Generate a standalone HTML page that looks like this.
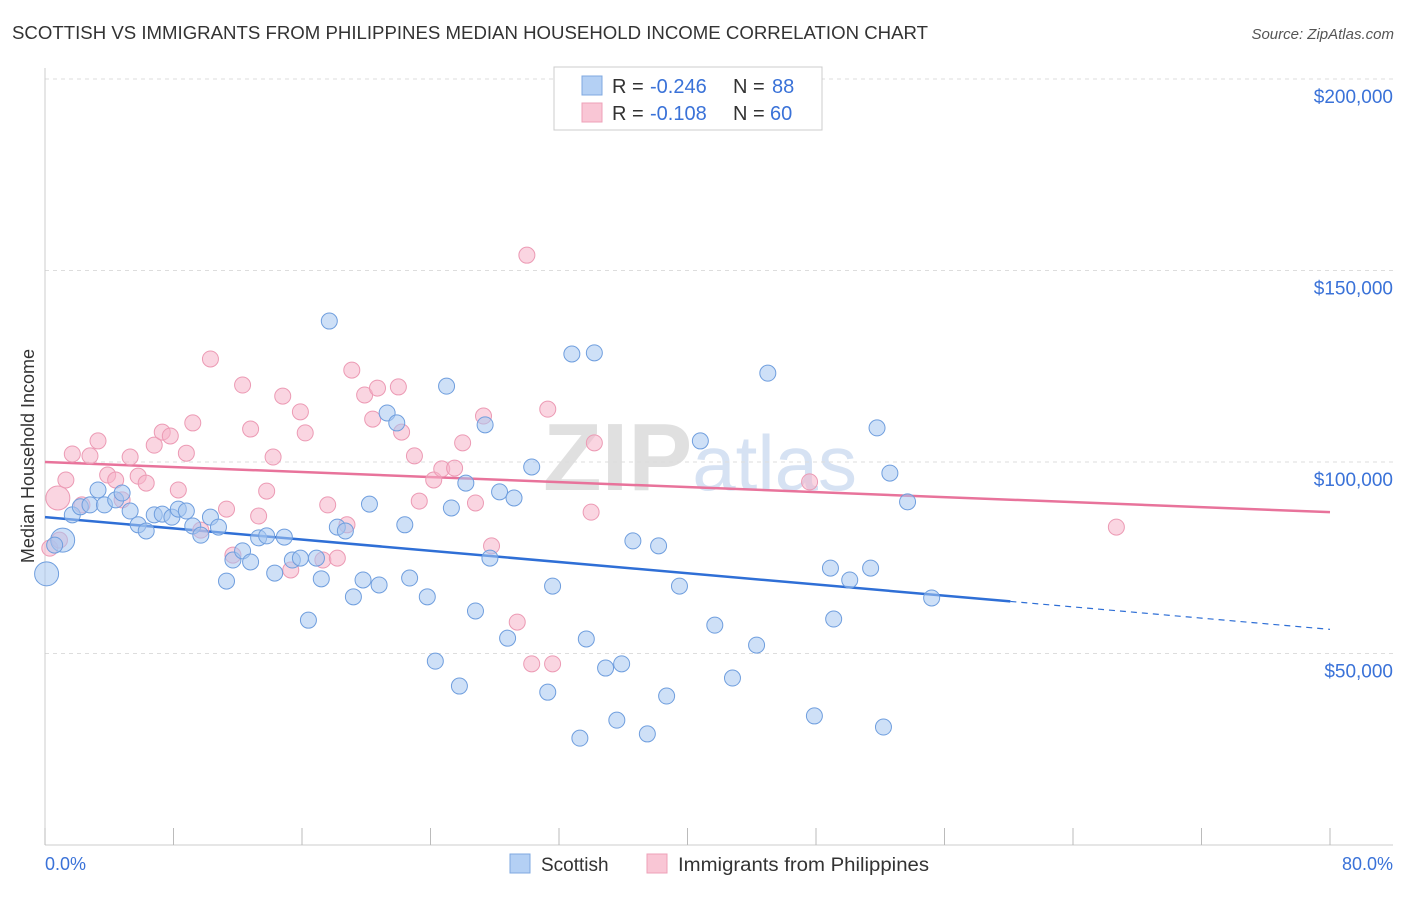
<!DOCTYPE html>
<html><head><meta charset="utf-8"><style>
body{margin:0;background:#fff;font-family:"Liberation Sans",sans-serif;}
svg text{font-family:"Liberation Sans",sans-serif;}
</style></head><body>
<svg id="chart" width="1406" height="892" xmlns="http://www.w3.org/2000/svg">
<text x="12" y="39" font-size="18" fill="#333" textLength="916" lengthAdjust="spacingAndGlyphs">SCOTTISH VS IMMIGRANTS FROM PHILIPPINES MEDIAN HOUSEHOLD INCOME CORRELATION CHART</text>
<text x="1394" y="39" font-size="15" fill="#555" text-anchor="end" font-style="italic">Source: ZipAtlas.com</text>
<text x="700" y="490" font-size="96" fill="#e4e8ef" text-anchor="middle" font-family="Liberation Serif"><tspan font-weight="bold" fill="#e0e0e0">ZIP</tspan><tspan fill="#d6e2f3" font-family="Liberation Sans" font-size="78">atlas</tspan></text>
<g id="grid"></g>
<g id="axes"></g>
<g id="lines"></g>
<g id="points"></g>
<text transform="translate(34,456) rotate(-90)" font-size="18" fill="#333" text-anchor="middle">Median Household Income</text>
<text x="45" y="870" font-size="18" fill="#3a72d8">0.0%</text>
<text x="1393" y="870" font-size="18" fill="#3a72d8" text-anchor="end">80.0%</text>
<g>
<rect x="554" y="67" width="268" height="63" fill="#fff" stroke="#ccc"/>
<rect x="582" y="76" width="20" height="19" fill="#b4d0f4" stroke="#7fa8e0"/>
<rect x="582" y="103" width="20" height="19" fill="#f9c6d5" stroke="#eea0b8"/>
<text x="612" y="93" font-size="20" fill="#333">R =</text>
<text x="650" y="93" font-size="20" fill="#3a72d8">-0.246</text>
<text x="733" y="93" font-size="20" fill="#333">N =</text>
<text x="772" y="93" font-size="20" fill="#3a72d8">88</text>
<text x="612" y="120" font-size="20" fill="#333">R =</text>
<text x="650" y="120" font-size="20" fill="#3a72d8">-0.108</text>
<text x="733" y="120" font-size="20" fill="#333">N =</text>
<text x="770" y="120" font-size="20" fill="#3a72d8">60</text>
</g>
<g>
<rect x="510" y="854" width="20" height="19" fill="#b4d0f4" stroke="#7fa8e0"/>
<text x="541" y="871" font-size="19" fill="#333">Scottish</text>
<rect x="647" y="854" width="20" height="19" fill="#f9c6d5" stroke="#eea0b8"/>
<text x="678" y="871" font-size="19" fill="#333" textLength="251" lengthAdjust="spacingAndGlyphs">Immigrants from Philippines</text>
</g>
</svg>
<script>
const yTicks=[50000,100000,150000,200000];
const yTickLabels=["$50,000","$100,000","$150,000","$200,000"];
const xTicks=[0,8,16,24,32,40,48,56,64,72,80];
const blueX=[0.1,1.1,0.6,1.7,2.2,2.8,3.3,3.7,4.4,4.8,5.3,5.8,6.3,6.8,7.3,7.9,8.3,8.8,9.2,9.7,10.3,10.8,11.3,11.7,12.3,12.8,13.3,13.8,14.3,14.9,15.4,15.9,16.4,16.9,17.2,17.7,18.2,18.7,19.2,19.8,20.2,20.8,21.3,21.9,22.4,22.7,23.8,24.3,25.0,25.3,25.8,26.2,26.8,27.4,27.7,28.3,28.8,29.2,30.3,31.3,31.6,32.8,33.3,33.7,34.2,34.9,35.6,35.9,36.6,37.5,38.2,38.7,39.5,40.8,41.7,42.8,44.3,45.0,47.9,48.9,49.1,50.1,51.4,51.8,52.2,52.6,53.7,55.2];
const blueY=[70.8,79.6,78.3,86.2,88.3,88.8,92.7,88.8,90.1,91.9,87.2,83.6,82.0,86.2,86.4,85.6,87.7,87.2,83.3,80.9,85.6,83.0,68.9,74.4,76.8,73.9,80.2,80.7,71.0,80.4,74.4,74.9,58.7,74.9,69.5,136.8,83.0,82.0,64.8,69.2,89.0,67.9,112.8,110.2,83.6,69.7,64.8,48.0,119.8,88.0,41.5,94.5,61.1,109.7,74.9,92.2,54.0,90.6,98.7,39.9,67.6,128.2,27.9,53.8,128.5,46.2,32.6,47.3,79.4,29.0,78.1,38.9,67.6,105.5,57.4,43.6,52.2,123.2,33.7,72.3,59.0,69.2,72.3,108.9,30.8,97.1,89.6,64.5];
const pinkX=[0.8,0.3,0.9,1.3,1.7,2.3,2.8,3.3,3.9,4.4,4.8,5.3,5.8,6.3,6.8,7.3,7.8,8.3,8.8,9.2,9.7,10.3,11.3,11.7,12.3,12.8,13.3,13.8,14.2,14.8,15.3,15.9,16.2,17.3,17.6,18.2,18.8,19.1,19.9,20.4,20.7,22.0,22.2,23.0,23.3,24.2,24.7,25.5,26.0,26.8,27.3,27.8,29.4,30.0,30.3,31.3,31.6,34.0,34.2,47.6,66.7];
const pinkY=[90.6,77.5,79.6,95.3,102.1,88.8,101.6,105.5,96.6,95.3,90.1,101.3,96.3,94.5,104.4,107.8,106.8,92.7,102.3,110.2,82.2,126.9,87.7,75.7,120.1,108.6,85.9,92.4,101.3,117.2,71.8,113.1,107.6,74.4,88.8,74.9,83.6,124.0,117.5,111.2,119.3,119.6,107.8,101.6,89.8,95.3,98.2,98.4,105.0,89.3,112.0,78.1,58.2,154.0,47.3,113.8,47.3,86.9,105.0,94.8,83.0];
const blueTrend=[85.6,63.6,56.3];
const blueTrendX=[0,60.1,80];
const pinkTrend=[100.0,86.9];
const pinkTrendX=[0,80];
const NS="http://www.w3.org/2000/svg";
function xs(p){return 45+p*(1330-45)/80;}
function ys(v){return 462-(v-100000)*191.5/50000;}
function yk(k){return ys(k*1000);}
function mk(tag,attrs,parent){const e=document.createElementNS(NS,tag);for(const k in attrs)e.setAttribute(k,attrs[k]);parent.appendChild(e);return e;}
const grid=document.getElementById('grid'),axes=document.getElementById('axes'),lines=document.getElementById('lines'),pts=document.getElementById('points');
yTicks.forEach((t,i)=>{
 const l=mk('line',{x1:45,x2:1393,y1:ys(t),y2:ys(t),stroke:'#ddd','stroke-dasharray':'4,4'},grid);
 
 
 const tx=mk('text',{x:1393,y:ys(t)+24,'font-size':19,fill:'#3a72d8','text-anchor':'end'},axes);
 tx.textContent=yTickLabels[i];
 
 
});
const ax=mk('line',{x1:45,x2:45,y1:68,y2:845,stroke:'#ccc'},axes);


const bx=mk('line',{x1:45,x2:1393,y1:845,y2:845,stroke:'#ccc'},axes);


xTicks.forEach(t=>{
 const l=mk('line',{x1:xs(t),x2:xs(t),y1:828,y2:845,stroke:'#bbb'},axes);
 
 
});
function dot(x,y,r,fill,stroke,name){
 const c=mk('circle',{cx:xs(x),cy:yk(y),r:r,fill:fill,stroke:stroke,'stroke-width':1,'fill-opacity':0.55},pts);
 
 
}
pinkX.forEach((x,i)=>dot(x,pinkY[i],i===0?12:8,'#f5b3c8','#ec9ab4','pink-point'));
blueX.forEach((x,i)=>dot(x,blueY[i],(i<2)?12:8,'#a6c6f0','#6f9ede','blue-point'));
const b1=mk('line',{x1:xs(blueTrendX[0]),y1:yk(blueTrend[0]),x2:xs(blueTrendX[1]),y2:yk(blueTrend[1]),stroke:'#2f6fd6','stroke-width':2.5},lines);


const b2=mk('line',{x1:xs(blueTrendX[1]),y1:yk(blueTrend[1]),x2:xs(blueTrendX[2]),y2:yk(blueTrend[2]),stroke:'#2f6fd6','stroke-width':1.2,'stroke-dasharray':'6,5'},lines);


const p1=mk('line',{x1:xs(pinkTrendX[0]),y1:yk(pinkTrend[0]),x2:xs(pinkTrendX[1]),y2:yk(pinkTrend[1]),stroke:'#e8739b','stroke-width':2.5},lines);


</script>
</body></html>
